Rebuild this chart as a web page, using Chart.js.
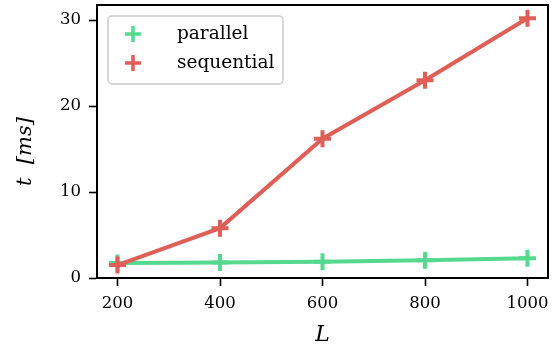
<!DOCTYPE html>
<html>
<head>
<meta charset="utf-8">
<script src="https://cdn.jsdelivr.net/npm/chart.js@4/dist/chart.umd.min.js"></script>
<style>
  html, body { margin: 0; padding: 0; background: #fff; }
  #wrap { width: 556px; height: 349px; }
</style>
</head>
<body>
<div id="wrap"><canvas id="chart" width="556" height="349"></canvas></div>
<script>
const sizes = [200, 400, 600, 800, 1000];
const parallel = [1.75, 1.8, 1.9, 2.05, 2.3];
const sequential = [1.5, 5.8, 16.2, 23.0, 30.2];
const xTicks = [200, 400, 600, 800, 1000];
const yTicks = [0, 10, 20, 30];

const green = '#55d98f';
const red = '#dd5f57';
const serif = '"DejaVu Serif", serif';

function points(ys) {
  return sizes.map((x, i) => ({ x: x, y: ys[i] }));
}

const noPadding = () => ({ left: 0, right: 0, top: 0, bottom: 0 });

// box around the plot and the legend in the upper left
const framePlugin = {
  id: 'frame',
  afterDraw(chart) {
    const ctx = chart.ctx;
    const a = chart.chartArea;
    ctx.save();
    ctx.strokeStyle = '#000';
    ctx.lineWidth = 2;
    ctx.strokeRect(a.left, a.top, a.right - a.left, a.bottom - a.top);

    // legend
    const lx = 108, ly = 16, lw = 175, lh = 68, r = 4;
    ctx.beginPath();
    ctx.moveTo(lx + r, ly);
    ctx.arcTo(lx + lw, ly, lx + lw, ly + lh, r);
    ctx.arcTo(lx + lw, ly + lh, lx, ly + lh, r);
    ctx.arcTo(lx, ly + lh, lx, ly, r);
    ctx.arcTo(lx, ly, lx + lw, ly, r);
    ctx.closePath();
    ctx.fillStyle = 'rgba(255,255,255,0.8)';
    ctx.fill();
    ctx.strokeStyle = '#cccccc';
    ctx.lineWidth = 1.5;
    ctx.stroke();

    chart.data.datasets.forEach((ds, i) => {
      const cy = 34 + i * 29;
      const cx = 133;
      ctx.strokeStyle = ds.borderColor;
      ctx.lineWidth = 3.5;
      ctx.beginPath();
      ctx.moveTo(cx - 8, cy); ctx.lineTo(cx + 8, cy);
      ctx.moveTo(cx, cy - 8); ctx.lineTo(cx, cy + 8);
      ctx.stroke();
      ctx.fillStyle = '#000';
      ctx.font = '18.5px ' + serif;
      ctx.textBaseline = 'middle';
      ctx.textAlign = 'left';
      ctx.fillText(ds.label, 177, cy);
    });
    ctx.restore();
  }
};

new Chart(document.getElementById('chart'), {
  type: 'line',
  data: {
    datasets: [
      {
        label: 'parallel',
        data: points(parallel),
        borderColor: green,
        backgroundColor: green,
        borderWidth: 4,
        pointStyle: 'cross',
        pointRadius: 8.5,
        pointBorderWidth: 4,
        order: 1
      },
      {
        label: 'sequential',
        data: points(sequential),
        borderColor: red,
        backgroundColor: red,
        borderWidth: 4,
        pointStyle: 'cross',
        pointRadius: 8.5,
        pointBorderWidth: 4,
        order: 0
      }
    ]
  },
  options: {
    responsive: false,
    animation: false,
    layout: { autoPadding: false, padding: { top: 5, right: 8, left: 0, bottom: 0 } },
    plugins: { legend: { display: false }, tooltip: { enabled: false } },
    scales: {
      x: {
        type: 'linear',
        min: 160,
        max: 1040,
        afterBuildTicks(scale) { scale.ticks = xTicks.map(v => ({ value: v })); },
        afterFit(scale) { scale.height = 71; scale.getPadding = noPadding; },
        grid: { drawOnChartArea: false, drawTicks: true, tickLength: 8, color: '#000', tickWidth: 1.6 },
        border: { display: true, color: '#000', width: 2 },
        ticks: { color: '#000', font: { family: serif, size: 16.5 }, padding: 8, maxRotation: 0,
                 callback: v => String(v) },
        title: {
          display: true, text: 'L', color: '#000',
          font: { family: serif, size: 22, style: 'italic' },
          padding: { top: 0, bottom: 1 }
        }
      },
      y: {
        type: 'linear',
        min: 0,
        max: 31.75,
        afterBuildTicks(scale) { scale.ticks = yTicks.map(v => ({ value: v })); },
        afterFit(scale) { scale.width = 97; scale.getPadding = noPadding; },
        grid: { drawOnChartArea: false, drawTicks: true, tickLength: 8, color: '#000', tickWidth: 1.6 },
        border: { display: true, color: '#000', width: 2 },
        ticks: { color: '#000', font: { family: serif, size: 16.5 }, padding: 8,
                 callback: v => String(v) },
        title: {
          display: true, text: 't  [ms]   ', color: '#000',
          font: { family: serif, size: 21, style: 'italic' },
          padding: { top: 13, bottom: 0 }
        }
      }
    }
  },
  plugins: [framePlugin]
});
</script>
</body>
</html>
